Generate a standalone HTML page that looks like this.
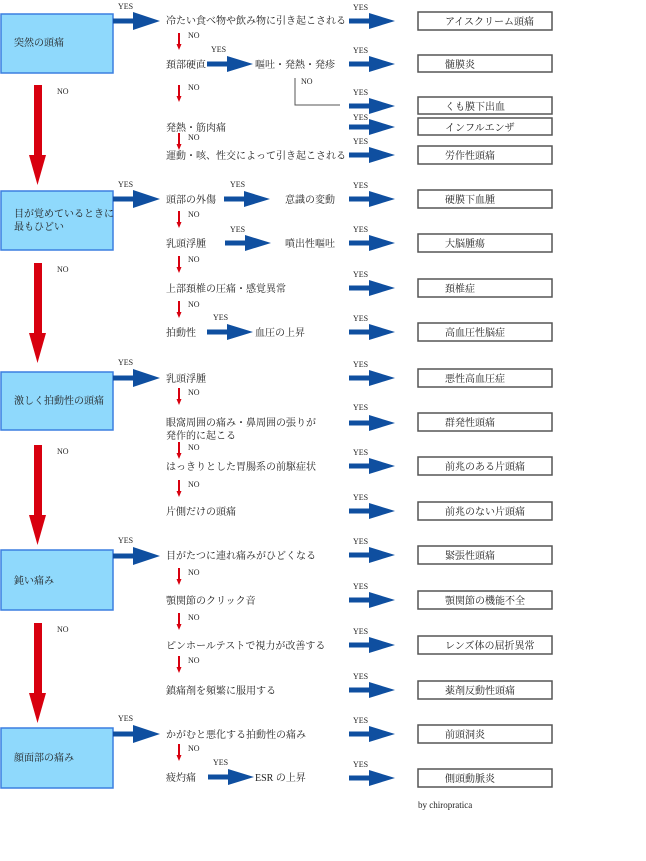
<!DOCTYPE html>
<html><head><meta charset="utf-8"><style>
body{margin:0;background:#fff;width:646px;height:856px;overflow:hidden}
svg text{font-family:"Liberation Serif","Noto Serif CJK JP",serif;font-size:10px;fill:#222}
.s{font-size:8px}
.bx{fill:#8fd9fc;stroke:#3b7fe0;stroke-width:1.5}
.rb{fill:#fff;stroke:#555;stroke-width:1.5}
.b{fill:#0f4fa0}
.r{fill:#d8000f}
</style></head><body>
<svg width="646" height="856" xmlns="http://www.w3.org/2000/svg">
<defs>
<g id="ba"><rect x="0" y="-2.5" width="22" height="5" class="b"/><polygon points="20,-8 46,0 20,8" class="b"/></g>
<g id="bb"><rect x="0" y="-2.5" width="22" height="5" class="b"/><polygon points="20,-9 47,0 20,9" class="b"/></g>
<g id="sr"><rect x="-1" y="0" width="2" height="12" class="r"/><polygon points="-2.5,11 2.5,11 0,17" class="r"/></g>
<g id="br"><rect x="34" y="0" width="8" height="70" class="r"/><polygon points="29,70 46,70 37.5,100" class="r"/></g>
</defs>

<!-- left boxes -->
<rect x="1" y="14" width="112" height="59" class="bx"/><text x="14" y="46">突然の頭痛</text>
<rect x="1" y="191" width="112" height="59" class="bx"/><text x="14" y="217">目が覚めているときに</text><text x="14" y="230">最もひどい</text>
<rect x="1" y="372" width="112" height="58" class="bx"/><text x="14" y="404">激しく拍動性の頭痛</text>
<rect x="1" y="550" width="112" height="60" class="bx"/><text x="14" y="584">鈍い痛み</text>
<rect x="1" y="728" width="112" height="60" class="bx"/><text x="14" y="761">顔面部の痛み</text>

<!-- big red arrows -->
<use href="#br" x="0" y="85"/><text class="s" x="57" y="94">NO</text>
<use href="#br" x="0" y="263"/><text class="s" x="57" y="272">NO</text>
<use href="#br" x="0" y="445"/><text class="s" x="57" y="454">NO</text>
<use href="#br" x="0" y="623"/><text class="s" x="57" y="632">NO</text>

<!-- YES arrows from boxes -->
<use href="#bb" x="113" y="21"/><text class="s" x="118" y="9">YES</text>
<use href="#bb" x="113" y="199"/><text class="s" x="118" y="187">YES</text>
<use href="#bb" x="113" y="378"/><text class="s" x="118" y="365">YES</text>
<use href="#bb" x="113" y="556"/><text class="s" x="118" y="543">YES</text>
<use href="#bb" x="113" y="734"/><text class="s" x="118" y="721">YES</text>

<!-- right column arrows & boxes -->
<g>
<use href="#ba" x="349" y="21"/><text class="s" x="353" y="10">YES</text><rect x="418" y="12" width="134" height="18" class="rb"/><text x="445" y="25">アイスクリーム頭痛</text>
<use href="#ba" x="349" y="64"/><text class="s" x="353" y="53">YES</text><rect x="418" y="55" width="134" height="17" class="rb"/><text x="445" y="68">髄膜炎</text>
<use href="#ba" x="349" y="106"/><text class="s" x="353" y="95">YES</text><rect x="418" y="97" width="134" height="17" class="rb"/><text x="445" y="110">くも膜下出血</text>
<use href="#ba" x="349" y="127"/><text class="s" x="353" y="120">YES</text><rect x="418" y="118" width="134" height="17" class="rb"/><text x="445" y="131">インフルエンザ</text>
<use href="#ba" x="349" y="155"/><text class="s" x="353" y="144">YES</text><rect x="418" y="146" width="134" height="18" class="rb"/><text x="445" y="159">労作性頭痛</text>

<use href="#ba" x="349" y="199"/><text class="s" x="353" y="188">YES</text><rect x="418" y="190" width="134" height="18" class="rb"/><text x="445" y="203">硬膜下血腫</text>
<use href="#ba" x="349" y="243"/><text class="s" x="353" y="232">YES</text><rect x="418" y="234" width="134" height="18" class="rb"/><text x="445" y="247">大脳腫瘍</text>
<use href="#ba" x="349" y="288"/><text class="s" x="353" y="277">YES</text><rect x="418" y="279" width="134" height="18" class="rb"/><text x="445" y="292">頚椎症</text>
<use href="#ba" x="349" y="332"/><text class="s" x="353" y="321">YES</text><rect x="418" y="323" width="134" height="18" class="rb"/><text x="445" y="336">高血圧性脳症</text>

<use href="#ba" x="349" y="378"/><text class="s" x="353" y="367">YES</text><rect x="418" y="369" width="134" height="18" class="rb"/><text x="445" y="382">悪性高血圧症</text>
<use href="#ba" x="349" y="423"/><text class="s" x="353" y="410">YES</text><rect x="418" y="413" width="134" height="18" class="rb"/><text x="445" y="426">群発性頭痛</text>
<use href="#ba" x="349" y="466"/><text class="s" x="353" y="455">YES</text><rect x="418" y="457" width="134" height="18" class="rb"/><text x="445" y="470">前兆のある片頭痛</text>
<use href="#ba" x="349" y="511"/><text class="s" x="353" y="500">YES</text><rect x="418" y="502" width="134" height="18" class="rb"/><text x="445" y="515">前兆のない片頭痛</text>

<use href="#ba" x="349" y="555"/><text class="s" x="353" y="544">YES</text><rect x="418" y="546" width="134" height="18" class="rb"/><text x="445" y="559">緊張性頭痛</text>
<use href="#ba" x="349" y="600"/><text class="s" x="353" y="589">YES</text><rect x="418" y="591" width="134" height="18" class="rb"/><text x="445" y="604">顎関節の機能不全</text>
<use href="#ba" x="349" y="645"/><text class="s" x="353" y="634">YES</text><rect x="418" y="636" width="134" height="18" class="rb"/><text x="445" y="649">レンズ体の屈折異常</text>
<use href="#ba" x="349" y="690"/><text class="s" x="353" y="679">YES</text><rect x="418" y="681" width="134" height="18" class="rb"/><text x="445" y="694">薬剤反動性頭痛</text>

<use href="#ba" x="349" y="734"/><text class="s" x="353" y="723">YES</text><rect x="418" y="725" width="134" height="18" class="rb"/><text x="445" y="738">前頭洞炎</text>
<use href="#ba" x="349" y="778"/><text class="s" x="353" y="767">YES</text><rect x="418" y="769" width="134" height="18" class="rb"/><text x="445" y="782">側頭動脈炎</text>
</g>
<text x="418" y="808" style="font-size:9px">by chiropratica</text>

<!-- section 1 middle -->
<text x="166" y="24">冷たい食べ物や飲み物に引き起こされる</text>
<use href="#sr" x="179" y="33"/><text class="s" x="188" y="38">NO</text>
<text x="166" y="68">頚部硬直</text>
<use href="#ba" x="207" y="64"/><text class="s" x="211" y="52">YES</text>
<text x="255" y="68">嘔吐・発熱・発疹</text>
<polyline points="295,78 295,105 340,105" fill="none" stroke="#555" stroke-width="1"/><text class="s" x="301" y="84">NO</text>
<use href="#sr" x="179" y="85"/><text class="s" x="188" y="90">NO</text>
<text x="166" y="131">発熱・筋肉痛</text>
<use href="#sr" x="179" y="133"/><text class="s" x="188" y="140">NO</text>
<text x="166" y="159">運動・咳、性交によって引き起こされる</text>

<!-- section 2 -->
<text x="166" y="203">頭部の外傷</text>
<use href="#ba" x="224" y="199"/><text class="s" x="230" y="187">YES</text>
<text x="285" y="203">意識の変動</text>
<use href="#sr" x="179" y="211"/><text class="s" x="188" y="217">NO</text>
<text x="166" y="247">乳頭浮腫</text>
<use href="#ba" x="225" y="243"/><text class="s" x="230" y="232">YES</text>
<text x="285" y="247">噴出性嘔吐</text>
<use href="#sr" x="179" y="256"/><text class="s" x="188" y="262">NO</text>
<text x="166" y="292">上部頚椎の圧痛・感覚異常</text>
<use href="#sr" x="179" y="301"/><text class="s" x="188" y="307">NO</text>
<text x="166" y="336">拍動性</text>
<use href="#ba" x="207" y="332"/><text class="s" x="213" y="320">YES</text>
<text x="255" y="336">血圧の上昇</text>

<!-- section 3 -->
<text x="166" y="382">乳頭浮腫</text>
<use href="#sr" x="179" y="388"/><text class="s" x="188" y="395">NO</text>
<text x="166" y="426">眼窩周囲の痛み・鼻周囲の張りが</text>
<text x="166" y="439">発作的に起こる</text>
<use href="#sr" x="179" y="442"/><text class="s" x="188" y="450">NO</text>
<text x="166" y="470">はっきりとした胃腸系の前駆症状</text>
<use href="#sr" x="179" y="480"/><text class="s" x="188" y="487">NO</text>
<text x="166" y="515">片側だけの頭痛</text>

<!-- section 4 -->
<text x="166" y="559">目がたつに連れ痛みがひどくなる</text>
<use href="#sr" x="179" y="568"/><text class="s" x="188" y="575">NO</text>
<text x="166" y="604">顎関節のクリック音</text>
<use href="#sr" x="179" y="613"/><text class="s" x="188" y="620">NO</text>
<text x="166" y="649">ピンホールテストで視力が改善する</text>
<use href="#sr" x="179" y="656"/><text class="s" x="188" y="663">NO</text>
<text x="166" y="694">鎮痛剤を頻繁に服用する</text>

<!-- section 5 -->
<text x="166" y="738">かがむと悪化する拍動性の痛み</text>
<use href="#sr" x="179" y="744"/><text class="s" x="188" y="751">NO</text>
<text x="166" y="781">疲灼痛</text>
<use href="#ba" x="208" y="777"/><text class="s" x="213" y="765">YES</text>
<text x="255" y="781">ESR の上昇</text>
</svg>
</body></html>
